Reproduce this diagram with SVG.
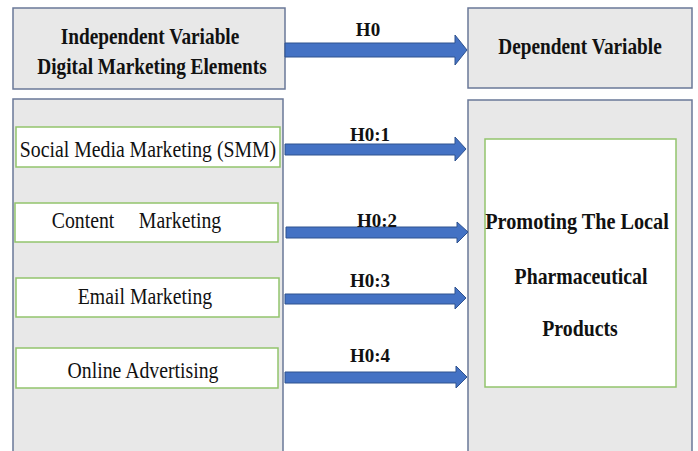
<svg xmlns="http://www.w3.org/2000/svg" width="698" height="451" viewBox="0 0 698 451">
  <style>
    .panel { fill: #e8e8e8; stroke: #6a7898; stroke-width: 1.5; }
    .item { fill: #ffffff; stroke: #92c46c; stroke-width: 1.5; }
    .arrow { fill: #4472c4; stroke: #2f528f; stroke-width: 1; }
    .bold { font-family: "Liberation Serif", "Times New Roman", serif; font-weight: bold; fill: #111; text-anchor: middle; font-size: 23px; }
    .reg { font-family: "Liberation Serif", "Times New Roman", serif; fill: #111; text-anchor: middle; font-size: 23px; }
    .hyp { font-family: "Liberation Serif", "Times New Roman", serif; font-weight: bold; fill: #111; text-anchor: middle; font-size: 19px; }
  </style>

  <rect x="0" y="0" width="698" height="451" fill="#ffffff"/>

  <!-- header: independent variable -->
  <g id="independent-header">
    <rect class="panel" x="13" y="8" width="272" height="81"/>
    <text class="bold" transform="matrix(0.84,0,0,1,150,44)">Independent Variable</text>
    <text class="bold" transform="matrix(0.84,0,0,1,152,74)">Digital Marketing Elements</text>
  </g>

  <!-- header: dependent variable -->
  <g id="dependent-header">
    <rect class="panel" x="468" y="8" width="224" height="80"/>
    <text class="bold" transform="matrix(0.84,0,0,1,580,54)">Dependent Variable</text>
  </g>

  <!-- left column panel holding the four elements -->
  <g id="elements-panel">
    <rect class="panel" x="13" y="99" width="270" height="360"/>
  </g>

  <g id="smm">
    <rect class="item" x="16" y="127" width="264" height="40"/>
    <text class="reg" transform="matrix(0.86,0,0,1,148,157)">Social Media Marketing (SMM)</text>
  </g>

  <g id="content-marketing">
    <rect class="item" x="15" y="203" width="263" height="39"/>
    <text class="reg" transform="matrix(0.86,0,0,1,83,228)">Content</text>
    <text class="reg" transform="matrix(0.86,0,0,1,180,228)">Marketing</text>
  </g>

  <g id="email-marketing">
    <rect class="item" x="16" y="278" width="263" height="39"/>
    <text class="reg" transform="matrix(0.86,0,0,1,145,304)">Email Marketing</text>
  </g>

  <g id="online-advertising">
    <rect class="item" x="16" y="348" width="262" height="40"/>
    <text class="reg" transform="matrix(0.86,0,0,1,143,378)">Online Advertising</text>
  </g>

  <!-- right column panel holding the outcome -->
  <g id="outcome-panel">
    <rect class="panel" x="468" y="100" width="224" height="360"/>
  </g>

  <g id="outcome">
    <rect class="item" x="485" y="139" width="191" height="248"/>
    <text class="bold" transform="matrix(0.88,0,0,1,577,229)">Promoting The Local</text>
    <text class="bold" transform="matrix(0.86,0,0,1,581,284)">Pharmaceutical</text>
    <text class="bold" transform="matrix(0.86,0,0,1,580,336)">Products</text>
  </g>

  <!-- hypothesis arrows -->
  <g id="connectors">
    <polygon class="arrow" points="285,43 455,43 455,35 467,50 455,65 455,57 285,57"/>
    <polygon class="arrow" points="285,144 455,144 455,137 466,149 455,161 455,155 285,155"/>
    <polygon class="arrow" points="286,227 457,227 457,222 468,232 457,243 457,238 286,238"/>
    <polygon class="arrow" points="285,294 455,294 455,287 466,298 455,309 455,304 285,304"/>
    <polygon class="arrow" points="285,372 456,372 456,366 467,377 456,388 456,383 285,383"/>

    <text class="hyp" x="368" y="36">H0</text>
    <text class="hyp" x="370" y="141">H0:1</text>
    <text class="hyp" x="377" y="227">H0:2</text>
    <text class="hyp" x="370" y="287">H0:3</text>
    <text class="hyp" x="370" y="362">H0:4</text>
  </g>
</svg>
